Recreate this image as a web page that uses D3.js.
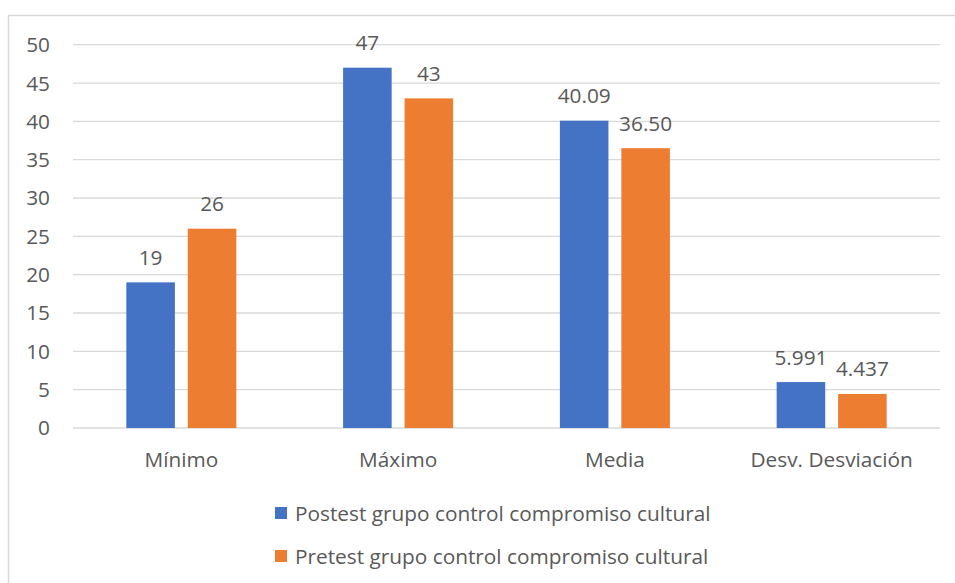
<!DOCTYPE html>
<html>
<head>
<meta charset="utf-8">
<script src="https://cdn.jsdelivr.net/npm/d3@7"></script>
<style>
  body { margin: 0; background: #fff; }
  text { font-family: "Open Sans", sans-serif; fill: #595959; }
</style>
</head>
<body>
<div id="chart"></div>
<script>
// data
const categories = ["Mínimo", "Máximo", "Media", "Desv. Desviación"];
const seriesNames = ["Postest grupo control compromiso cultural", "Pretest grupo control compromiso cultural"];
const postest = [19, 47, 40.09, 5.991];
const pretest = [26, 43, 36.50, 4.437];
const postestLabels = ["19", "47", "40.09", "5.991"];
const pretestLabels = ["26", "43", "36.50", "4.437"];
const yTicks = [0, 5, 10, 15, 20, 25, 30, 35, 40, 45, 50];
const colors = ["#4472C4", "#ED7D31"];

const W = 955, H = 583;
const margin = {top: 44.7, right: 15, bottom: 155, left: 73};
const width = W - margin.left - margin.right;
const height = H - margin.top - margin.bottom;
const fs = "20.8px";

const svg = d3.select("#chart").append("svg")
    .attr("width", W)
    .attr("height", H);

// chart frame
svg.append("rect")
    .attr("x", 8.5).attr("y", 15.5)
    .attr("width", 960).attr("height", 600)
    .attr("fill", "none")
    .attr("stroke", "#d9d9d9")
    .attr("stroke-width", 1.5);

const g = svg.append("g").attr("transform", `translate(${margin.left},${margin.top})`);

const x0 = d3.scaleBand().domain(categories).range([0, width])
    .paddingInner(0.4925).paddingOuter(0.246);
const x1 = d3.scaleBand().domain([0, 1]).range([0, x0.bandwidth()]).paddingInner(0.21);
const y = d3.scaleLinear().domain([0, 50]).range([height, 0]);

// gridlines
g.append("g").selectAll("line").data(yTicks).enter().append("line")
    .attr("x1", 0).attr("x2", width)
    .attr("y1", d => y(d)).attr("y2", d => y(d))
    .attr("stroke", "#d9d9d9").attr("stroke-width", 1.3);

// y axis labels
g.append("g").selectAll("text").data(yTicks).enter().append("text")
    .attr("x", -23).attr("y", d => y(d))
    .attr("dy", "0.36em")
    .style("text-anchor", "end")
    .style("font-size", fs)
    .text(d => d);

// bars
const rows = categories.map((c, i) => ({
    cat: c,
    vals: [{s: 0, v: postest[i], l: postestLabels[i]}, {s: 1, v: pretest[i], l: pretestLabels[i]}]
}));

const groups = g.selectAll(".grp").data(rows).enter().append("g")
    .attr("class", "grp")
    .attr("transform", d => `translate(${x0(d.cat)},0)`);

groups.selectAll("rect").data(d => d.vals).enter().append("rect")
    .attr("x", d => x1(d.s))
    .attr("width", x1.bandwidth())
    .attr("y", d => y(d.v))
    .attr("height", d => height - y(d.v))
    .attr("fill", d => colors[d.s]);

groups.selectAll(".lbl").data(d => d.vals).enter().append("text")
    .attr("class", "lbl")
    .attr("x", d => x1(d.s) + x1.bandwidth() / 2)
    .attr("y", d => y(d.v) - 17.5)
    .style("text-anchor", "middle")
    .style("font-size", fs)
    .text(d => d.l);

// category labels
g.append("g").selectAll("text").data(categories).enter().append("text")
    .attr("x", d => x0(d) + x0.bandwidth() / 2)
    .attr("y", height + 39)
    .style("text-anchor", "middle")
    .style("font-size", fs)
    .text(d => d);

// legend
const legend = svg.selectAll(".legend").data(seriesNames).enter().append("g")
    .attr("class", "legend")
    .attr("transform", (d, i) => `translate(275,${507 + i * 43})`);

legend.append("rect")
    .attr("width", 12).attr("height", 12)
    .attr("fill", (d, i) => colors[i]);

legend.append("text")
    .attr("x", 20).attr("y", 6)
    .attr("dy", "0.36em")
    .style("font-size", fs)
    .text(d => d);
</script>
</body>
</html>
